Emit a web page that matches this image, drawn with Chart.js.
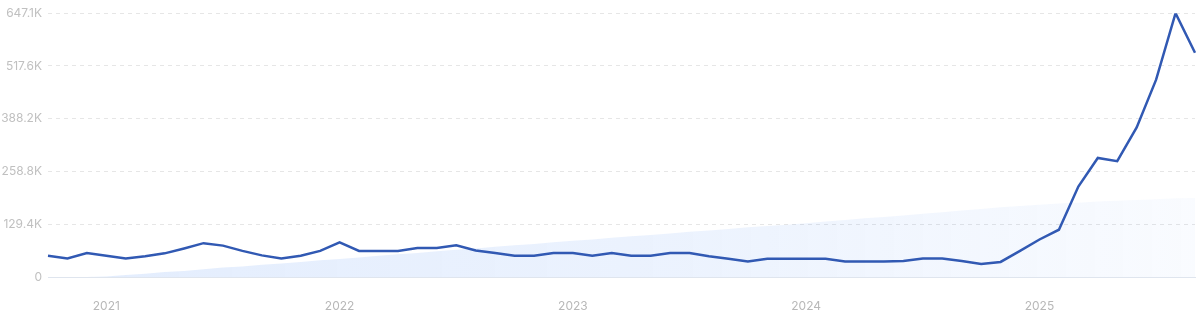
<!DOCTYPE html>
<html>
<head>
<meta charset="utf-8">
<script src="https://cdn.jsdelivr.net/npm/chart.js@4"></script>
<style>
  html, body { margin: 0; padding: 0; background: #fff; }
  #wrap { width: 1200px; height: 313px; }
</style>
</head>
<body>
<div id="wrap"><canvas id="myChart"></canvas></div>
<script>
// months Oct 2020 .. Sep 2025
const months = [
  '2020-10','2020-11','2020-12',
  '2021-01','2021-02','2021-03','2021-04','2021-05','2021-06','2021-07','2021-08','2021-09','2021-10','2021-11','2021-12',
  '2022-01','2022-02','2022-03','2022-04','2022-05','2022-06','2022-07','2022-08','2022-09','2022-10','2022-11','2022-12',
  '2023-01','2023-02','2023-03','2023-04','2023-05','2023-06','2023-07','2023-08','2023-09','2023-10','2023-11','2023-12',
  '2024-01','2024-02','2024-03','2024-04','2024-05','2024-06','2024-07','2024-08','2024-09','2024-10','2024-11','2024-12',
  '2025-01','2025-02','2025-03','2025-04','2025-05','2025-06','2025-07','2025-08','2025-09'
]

const searches = [
  52000, 45600, 58600,
  52000, 45600, 51000, 58000, 70000, 83000, 77000, 64000, 53000, 45600, 52000, 64000,
  85000, 64000, 64000, 64000, 71000, 71000, 78000, 65000, 58600, 52000, 52000, 58600,
  58600, 52000, 58600, 52000, 52000, 58600, 58600, 51000, 45000, 38000, 45000, 45000,
  45000, 45000, 38000, 38000, 38000, 39000, 45600, 45600, 39000, 31700, 37000, 64000,
  92000, 116000, 222000, 292000, 284000, 367000, 484000, 647100, 550000
]

// faint background area
const trend = [
  0, 0, 0,
  1000, 5000, 8000, 12000, 15000, 19000, 23000, 26000, 30000, 33000, 37000, 41000,
  44000, 48000, 52000, 56000, 59000, 63000, 67000, 70000, 74000, 78000, 81000, 85000,
  89000, 92000, 96000, 100000, 103000, 107000, 111000, 114000, 118000, 122000, 125000, 128000,
  132000, 136000, 140000, 144000, 147000, 151000, 155000, 159000, 163000, 167000, 171000, 174000,
  177000, 180000, 182000, 185000, 187000, 189000, 191000, 193000, 194000
]

const yTickValues = [0, 129420, 258840, 388260, 517680, 647100]
const yTickLabels = ['0', '129.4K', '258.8K', '388.2K', '517.6K', '647.1K']

const ctx = document.getElementById('myChart')

new Chart(ctx, {
  type: 'line',
  data: {
    labels: months,
    datasets: [
      {
        data: searches,
        borderColor: '#3159b3',
        borderWidth: 2.5,
        pointRadius: 0,
        tension: 0,
        fill: false,
        order: 0
      },
      {
        data: trend,
        borderWidth: 0,
        pointRadius: 0,
        tension: 0,
        fill: 'origin',
        order: 1,
        backgroundColor: function (c) {
          const area = c.chart.chartArea
          if (!area) return 'rgba(66,133,244,0.1)'
          const g = c.chart.ctx.createLinearGradient(area.left, 0, area.right, 0)
          g.addColorStop(0, 'rgba(66,133,244,0.15)')
          g.addColorStop(0.55, 'rgba(66,133,244,0.1)')
          g.addColorStop(1, 'rgba(66,133,244,0.03)')
          return g
        }
      }
    ]
  },
  options: {
    responsive: true,
    maintainAspectRatio: false,
    animation: false,
    layout: { padding: { top: 12, right: 5, left: 0, bottom: 0 } },
    plugins: { legend: { display: false }, tooltip: { enabled: false } },
    scales: {
      x: {
        offset: false,
        grid: { display: false, drawTicks: false },
        border: { display: true, color: '#dfe5ee', width: 1 },
        ticks: {
          autoSkip: false,
          maxRotation: 0,
          padding: 22,
          color: '#b8b8b8',
          font: { family: 'Inter', size: 12 },
          callback: function (v, i) {
            const m = months[i]
            return m.endsWith('-01') ? m.slice(0, 4) : ''
          }
        },
        afterFit: function (s) {
          s.height = 36
          s.paddingLeft = 0
          s.paddingRight = 0
        }
      },
      y: {
        min: 0,
        max: 647100,
        afterBuildTicks: function (s) {
          s.ticks = yTickValues.map(v => ({ value: v }))
        },
        grid: {
          drawTicks: false,
          color: function (c) { return c.tick && c.tick.value === 0 ? 'rgba(0,0,0,0)' : '#e6e6e6' }
        },
        border: { display: false, dash: [4, 4] },
        ticks: {
          padding: 6,
          color: '#c0c0c0',
          font: { family: 'Inter', size: 12 },
          callback: function (v, i) { return yTickLabels[i] }
        },
        afterFit: function (s) { s.width = 48 }
      }
    }
  }
})
</script>
</body>
</html>
